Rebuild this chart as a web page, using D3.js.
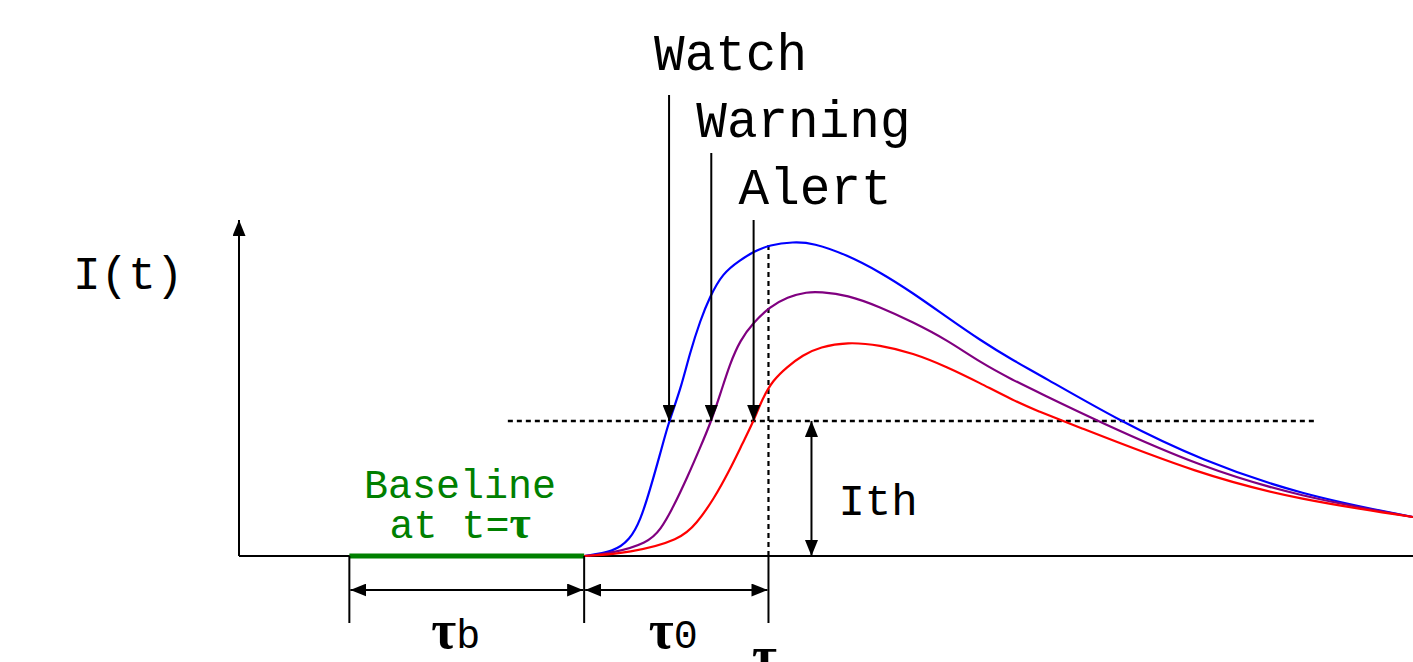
<!DOCTYPE html>
<html>
<head>
<meta charset="utf-8">
<script src="https://cdn.jsdelivr.net/npm/d3@7"></script>
<style>
body { margin: 0; background: #fff; }
text { font-family: "Liberation Mono", "Courier New", monospace; }
</style>
</head>
<body>
<svg id="chart"></svg>
<script>
// time and intensity both in arbitrary units 0..100 (axis arrow = 100)
var seriesNames = ["Watch", "Warning", "Alert"]

var watchCurve = [[29.4,0],[31.9,1.2],[33.3,4.8],[34.2,10.7],[35.0,19.6],[35.9,30.7],[36.6,39.9],
  [37.6,49.4],[38.4,60.4],[39.3,70.2],[40.1,77.1],[41.2,84.2],[42.7,88.1],[43.8,90.5],[45.2,92.6],
  [47.2,93.5],[48.9,93.2],[51.8,89.6],[54.6,84.5],[57.4,78.3],[60.3,71.1],[63.1,64.3],[65.9,58.3],
  [68.2,53.9],[75.0,40.2],[81.9,28.6],[90.4,18.2],[100,11.6]]

var warningCurve = [[29.4,0],[31.9,0.9],[34.8,3.9],[35.9,7.7],[37.0,14.6],[38.2,23.5],[39.3,32.4],
  [40.2,39.9],[41.0,48.2],[41.8,57.1],[42.7,64.3],[43.8,69.4],[45.2,74.1],[46.7,77.1],[48.4,78.6],
  [49.5,78.6],[51.8,77.7],[54.6,74.1],[57.4,69.6],[60.3,64.3],[63.1,57.7],[65.9,52.4],[68.2,48.5],
  [73.1,40.2],[81.9,26.5],[90.4,17.6],[100,11.6]]

var alertCurve = [[29.4,0],[33.3,0.9],[37.6,4.8],[39.0,9.8],[40.4,16.7],[41.8,25.6],[42.9,33.6],
  [43.8,39.9],[44.6,47.0],[45.5,52.4],[46.7,56.3],[48.0,59.8],[49.5,62.2],[51.8,63.7],[54.6,62.8],
  [57.4,60.4],[60.3,56.3],[63.1,51.5],[65.9,46.4],[68.2,42.9],[70.2,40.2],[81.9,24.1],[90.4,16.7],
  [100,11.6]]

var threshold = 40.2      // I_th
var baselineStart = 9.4   // tau - tau0 - tauB
var onset = 29.4          // tau - tau0
var tau = 45.1

var width = 1413, height = 662

var svg = d3.select('svg#chart')
    .attr('width', width)
    .attr('height', height)

var x = d3.scaleLinear().domain([0, 100]).range([239, 1413])
var y = d3.scaleLinear().domain([0, 100]).range([556, 220])

var colors = { Watch: '#0000ff', Warning: '#800080', Alert: '#ff0000' }
var curves = [watchCurve, warningCurve, alertCurve]

svg.append('defs').append('marker')
    .attr('id', 'head')
    .attr('markerUnits', 'userSpaceOnUse')
    .attr('markerWidth', 16)
    .attr('markerHeight', 13)
    .attr('refX', 16)
    .attr('refY', 6.5)
    .attr('orient', 'auto-start-reverse')
  .append('path')
    .attr('d', 'M0,0 L16,6.5 L0,13 Z')
    .attr('fill', '#000')

// first upward crossing of the threshold
function crossing(curve, level) {
  for (var i = 1; i < curve.length; i++) {
    var a = curve[i - 1], b = curve[i]
    if (a[1] < level && b[1] >= level) {
      return a[0] + (level - a[1]) / (b[1] - a[1]) * (b[0] - a[0])
    }
  }
}

// axes
svg.append('line')
    .attr('x1', x(0)).attr('y1', y(0))
    .attr('x2', x(0)).attr('y2', y(100))
    .attr('stroke', '#000').attr('stroke-width', 2)
    .attr('marker-end', 'url(#head)')
svg.append('line')
    .attr('x1', x(0)).attr('y1', y(0))
    .attr('x2', x(100) + 5).attr('y2', y(0))
    .attr('stroke', '#000').attr('stroke-width', 2)

svg.append('text')
    .attr('x', 73).attr('y', 289)
    .attr('font-size', 46)
    .text('I(t)')

// threshold and tau guide lines
svg.append('line')
    .attr('x1', x(22.9)).attr('x2', x(91.8))
    .attr('y1', y(threshold)).attr('y2', y(threshold))
    .attr('stroke', '#000').attr('stroke-width', 2.4)
    .attr('stroke-dasharray', '5,4')
svg.append('line')
    .attr('x1', x(tau)).attr('x2', x(tau))
    .attr('y1', y(0)).attr('y2', y(93.2))
    .attr('stroke', '#000').attr('stroke-width', 2.2)
    .attr('stroke-dasharray', '5,4')

// curves
var line = d3.line()
    .x(function(d) { return x(d[0]) })
    .y(function(d) { return y(d[1]) })
    .curve(d3.curveBasis)

svg.selectAll('.curve')
    .data(curves)
    .join('path')
    .attr('class', 'curve')
    .attr('d', line)
    .attr('fill', 'none')
    .attr('stroke', function(d, i) { return colors[seriesNames[i]] })
    .attr('stroke-width', 2.2)

// baseline window
svg.append('line')
    .attr('x1', x(baselineStart)).attr('x2', x(onset))
    .attr('y1', y(0)).attr('y2', y(0))
    .attr('stroke', '#008000').attr('stroke-width', 5)

var baseLabel = svg.append('text')
    .attr('text-anchor', 'middle')
    .attr('fill', '#008000')
    .attr('font-size', 40)
baseLabel.append('tspan').attr('x', 460).attr('y', 498).text('Baseline')
var l2 = baseLabel.append('tspan').attr('x', 460).attr('y', 538)
l2.append('tspan').text('at t=')
l2.append('tspan')
    .style('font-family', '"Liberation Serif", serif')
    .attr('font-weight', 'bold')
    .attr('font-size', 46)
    .text('τ')

// alert arrows + labels
var labelLayout = [
  { top: 95, ty: 70 },
  { top: 153, ty: 137 },
  { top: 220, ty: 204 }
]
curves.forEach(function(c, i) {
  var cx = x(crossing(c, threshold))
  svg.append('line')
      .attr('x1', cx).attr('x2', cx)
      .attr('y1', labelLayout[i].top).attr('y2', y(threshold))
      .attr('stroke', '#000').attr('stroke-width', 2)
      .attr('marker-end', 'url(#head)')
  svg.append('text')
      .attr('x', cx - 15).attr('y', labelLayout[i].ty)
      .attr('font-size', 51)
      .text(seriesNames[i])
})

// I_th dimension
var ithX = x(tau) + 43
svg.append('line')
    .attr('x1', ithX).attr('x2', ithX)
    .attr('y1', y(0)).attr('y2', y(threshold))
    .attr('stroke', '#000').attr('stroke-width', 2)
    .attr('marker-start', 'url(#head)')
    .attr('marker-end', 'url(#head)')
svg.append('text')
    .attr('x', ithX + 27).attr('y', 515)
    .attr('font-size', 44)
    .text('Ith')

// tick marks and time spans below the axis
;[baselineStart, onset, tau].forEach(function(t) {
  svg.append('line')
      .attr('x1', x(t)).attr('x2', x(t))
      .attr('y1', y(0)).attr('y2', 623)
      .attr('stroke', '#000').attr('stroke-width', 2)
})
;[[baselineStart, onset], [onset, tau]].forEach(function(s) {
  svg.append('line')
      .attr('x1', x(s[0]) + 1).attr('x2', x(s[1]) - 1)
      .attr('y1', 590).attr('y2', 590)
      .attr('stroke', '#000').attr('stroke-width', 2)
      .attr('marker-start', 'url(#head)')
      .attr('marker-end', 'url(#head)')
})

function tauLabel(cx, sub, yy) {
  var t = svg.append('text').attr('x', cx).attr('y', yy).attr('text-anchor', 'middle')
  t.append('tspan')
      .style('font-family', '"Liberation Serif", serif')
      .attr('font-weight', 'bold')
      .attr('font-size', 54)
      .text('τ')
  if (sub) t.append('tspan').attr('font-size', 40).text(sub)
}
tauLabel((x(baselineStart) + x(onset)) / 2 - 11, 'b', 648)
tauLabel((x(onset) + x(tau)) / 2 - 3, '0', 648)
tauLabel(x(tau) - 4, null, 674)
</script>
</body>
</html>
